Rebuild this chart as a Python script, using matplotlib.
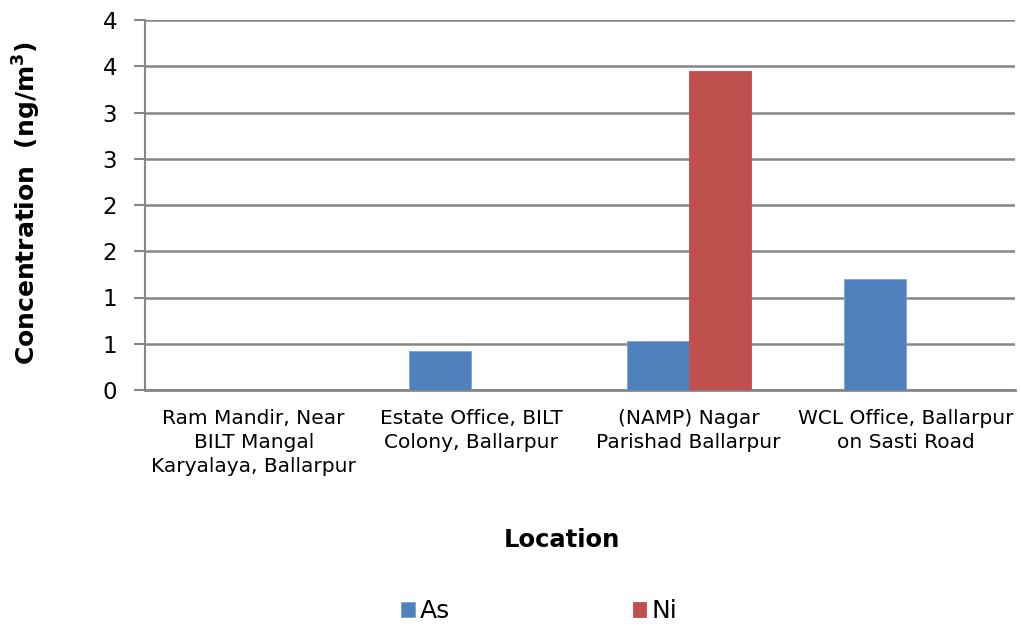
import matplotlib
matplotlib.use("Agg")
import matplotlib.pyplot as plt
import numpy as np

# Sampling locations and measured concentrations (ng/m3)
locations = [
    "Ram Mandir, Near\nBILT Mangal\nKaryalaya, Ballarpur",
    "Estate Office, BILT\nColony, Ballarpur",
    "(NAMP) Nagar\nParishad Ballarpur",
    "WCL Office, Ballarpur\non Sasti Road",
]
as_values = [0.0, 0.42, 0.53, 1.20]
ni_values = [0.0, 0.0, 3.45, 0.0]
series_names = ["As", "Ni"]
y_ticks = [0, 0.5, 1, 1.5, 2, 2.5, 3, 3.5, 4]
y_tick_labels = ["0", "1", "1", "2", "2", "3", "3", "4", "4"]

plt.rcParams["font.family"] = ["DejaVu Sans"]

fig = plt.figure(figsize=(10.21, 6.29), dpi=100)
ax = fig.add_axes([145 / 1021, 1 - 390 / 629, 870 / 1021, 370 / 629])

x = np.arange(len(locations))
width = 1 / 3.5
grid_col = "#868686"

b1 = ax.bar(x - width / 2, as_values, width, color="#4F81BD",
            edgecolor="#7FA3D3", linewidth=0.6, label=series_names[0], zorder=3)
b2 = ax.bar(x + width / 2, ni_values, width, color="#C0504D",
            edgecolor="#C0504D", linewidth=0.6, label=series_names[1], zorder=3)

ax.set_xlim(-0.5, len(locations) - 0.5)
ax.set_ylim(0, 4)
ax.set_yticks(y_ticks)
ax.set_yticklabels(y_tick_labels, fontsize=16.5)
ax.yaxis.grid(True, color=grid_col, linewidth=1.8, zorder=0)
ax.set_axisbelow(True)

ax.set_xticks(x)
ax.set_xticklabels(locations, fontsize=14.5, linespacing=1.32, va="top")
ax.tick_params(axis="x", length=0, pad=14)
ax.tick_params(axis="y", length=8, width=1.5, color=grid_col, pad=12)

for side in ("top", "right"):
    ax.spines[side].set_visible(False)
ax.spines["left"].set_color(grid_col)
ax.spines["left"].set_linewidth(1.5)
ax.spines["bottom"].set_color(grid_col)
ax.spines["bottom"].set_linewidth(2)

fig.text(27 / 1021, 1 - 203 / 629, "Concentration  (ng/m$\\mathbf{^3}$)",
         rotation=90, ha="center", va="center", fontsize=18, fontweight="bold")
fig.text(562 / 1021, 1 - 540 / 629, "Location", ha="center", va="center",
         fontsize=17.5, fontweight="bold")

fig.legend(handles=[b1, b2], labels=series_names, loc="center",
           bbox_to_anchor=(539 / 1021, 1 - 611 / 629), ncol=2, frameon=False,
           fontsize=18, handlelength=0.55, handleheight=0.55, handletextpad=0.2,
           columnspacing=7.3)

fig.savefig("out.png", dpi=100)
